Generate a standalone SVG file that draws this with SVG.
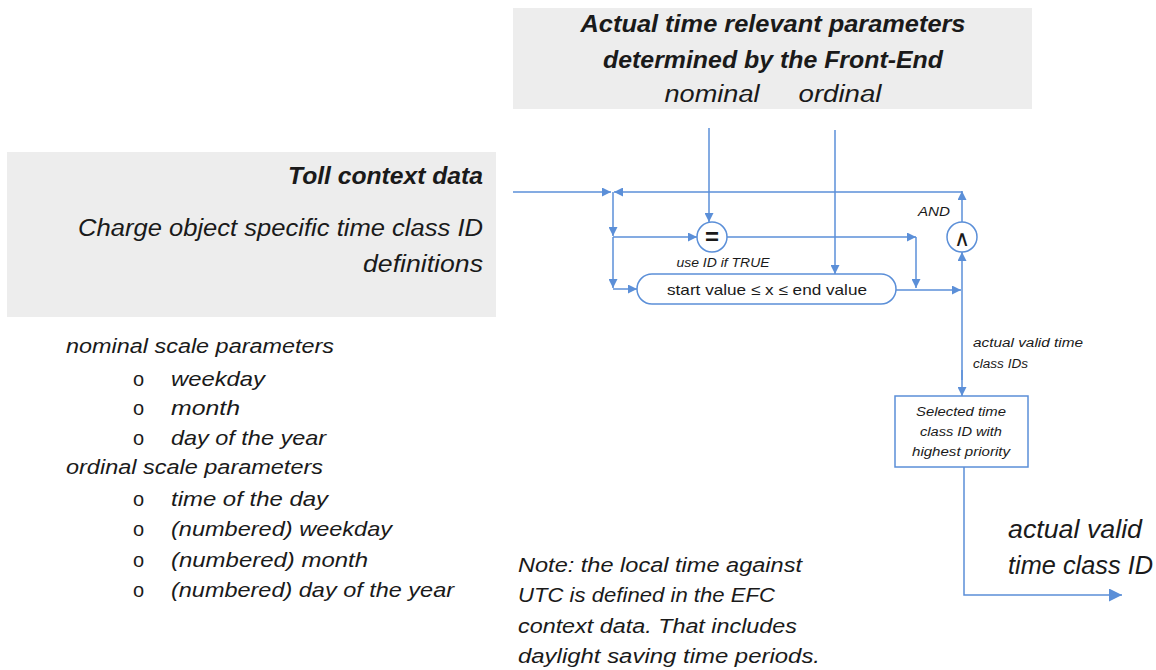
<svg xmlns="http://www.w3.org/2000/svg" width="1156" height="670" viewBox="0 0 1156 670">
<style>
.ln{fill:none;stroke:#5b8fd8;stroke-width:1.5}
.t{font-family:"Liberation Sans",Arial,sans-serif;fill:#1a1a1a;font-style:italic}
.b{font-weight:bold}
.sm{font-size:12px}
</style>
<defs>
<marker id="ah" viewBox="0 0 10 10" refX="10" refY="5" markerWidth="9" markerHeight="9" markerUnits="userSpaceOnUse" orient="auto">
<path d="M0,0 L10,5 L0,10 z" fill="#5b8fd8"/>
</marker>
<marker id="ahl" viewBox="0 0 10 10" refX="10" refY="5" markerWidth="13" markerHeight="13" markerUnits="userSpaceOnUse" orient="auto">
<path d="M0,0 L10,5 L0,10 z" fill="#5b8fd8"/>
</marker>
</defs>
<rect width="1156" height="670" fill="#ffffff"/>

<g id="frontend">
<rect x="513" y="8" width="519" height="101" fill="#ededed"/>
<text class="t b" x="773" y="32" font-size="23" text-anchor="middle" textLength="385" lengthAdjust="spacingAndGlyphs">Actual time relevant parameters</text>
<text class="t b" x="773" y="68" font-size="23" text-anchor="middle" textLength="340" lengthAdjust="spacingAndGlyphs">determined  by the Front-End</text>
<text class="t" x="712" y="102" font-size="23" text-anchor="middle" textLength="95" lengthAdjust="spacingAndGlyphs">nominal</text>
<text class="t" x="840" y="102" font-size="23" text-anchor="middle" textLength="83" lengthAdjust="spacingAndGlyphs">ordinal</text>
</g>

<g id="toll">
<rect x="7" y="152" width="489" height="165" fill="#ededed"/>
<text class="t b" x="483" y="184" font-size="23" text-anchor="end" textLength="195" lengthAdjust="spacingAndGlyphs">Toll context data</text>
<text class="t" x="483" y="236" font-size="23" text-anchor="end" textLength="405" lengthAdjust="spacingAndGlyphs">Charge object specific time class ID</text>
<text class="t" x="483" y="272" font-size="23" text-anchor="end" textLength="120" lengthAdjust="spacingAndGlyphs">definitions</text>
</g>

<g id="lists">
<text class="t" x="66" y="353" font-size="20" textLength="268" lengthAdjust="spacingAndGlyphs">nominal scale parameters</text>
<text class="t" x="66" y="474" font-size="20" textLength="257" lengthAdjust="spacingAndGlyphs">ordinal scale parameters</text>
<g font-family="Liberation Sans,Arial,sans-serif" font-size="20" fill="#1a1a1a">
<text x="133" y="386">o</text>
<text x="133" y="415">o</text>
<text x="133" y="445">o</text>
<text x="133" y="506">o</text>
<text x="133" y="536">o</text>
<text x="133" y="567">o</text>
<text x="133" y="597">o</text>
</g>
<text class="t" x="171" y="386" font-size="21" textLength="94" lengthAdjust="spacingAndGlyphs">weekday</text>
<text class="t" x="171" y="415" font-size="21" textLength="69" lengthAdjust="spacingAndGlyphs">month</text>
<text class="t" x="171" y="445" font-size="21" textLength="155" lengthAdjust="spacingAndGlyphs">day of the year</text>
<text class="t" x="171" y="506" font-size="21" textLength="157" lengthAdjust="spacingAndGlyphs">time of the day</text>
<text class="t" x="171" y="536" font-size="21" textLength="221" lengthAdjust="spacingAndGlyphs">(numbered) weekday</text>
<text class="t" x="171" y="567" font-size="21" textLength="197" lengthAdjust="spacingAndGlyphs">(numbered) month</text>
<text class="t" x="171" y="597" font-size="21" textLength="283" lengthAdjust="spacingAndGlyphs">(numbered) day of the year</text>
</g>

<g id="note">
<text class="t" x="518" y="572" font-size="20" textLength="284" lengthAdjust="spacingAndGlyphs">Note: the local time against</text>
<text class="t" x="518" y="602" font-size="20" textLength="257" lengthAdjust="spacingAndGlyphs">UTC is defined in the EFC</text>
<text class="t" x="518" y="633" font-size="20" textLength="279" lengthAdjust="spacingAndGlyphs">context data. That includes</text>
<text class="t" x="518" y="663" font-size="20" textLength="302" lengthAdjust="spacingAndGlyphs">daylight saving time periods.</text>
</g>

<g id="equal">
<circle cx="712" cy="237" r="15" fill="#ffffff" stroke="#5b8fd8" stroke-width="1.5"/>
<text x="712" y="245" font-family="Liberation Sans,Arial,sans-serif" font-weight="bold" font-size="24" text-anchor="middle" fill="#1a1a1a">=</text>
<text class="t sm" x="723" y="267" text-anchor="middle" textLength="93" lengthAdjust="spacingAndGlyphs">use ID if TRUE</text>
</g>

<g id="range">
<rect x="637" y="274" width="259" height="30" rx="15" ry="15" fill="#ffffff" stroke="#5b8fd8" stroke-width="1.5"/>
<text x="767" y="295" font-family="Liberation Sans,Arial,sans-serif" font-size="15" text-anchor="middle" fill="#1a1a1a" textLength="200" lengthAdjust="spacingAndGlyphs">start value ≤ x ≤ end value</text>
</g>

<g id="and">
<circle cx="962" cy="237" r="15" fill="#ffffff" stroke="#5b8fd8" stroke-width="1.5"/>
<text x="962" y="246" font-family="DejaVu Sans,sans-serif" font-size="22" text-anchor="middle" fill="#1a1a1a">∧</text>
<text class="t sm" x="934" y="216" text-anchor="middle" textLength="32" lengthAdjust="spacingAndGlyphs">AND</text>
</g>

<g id="select">
<rect x="895" y="396" width="133" height="71" fill="#ffffff" stroke="#5b8fd8" stroke-width="1.5"/>
<text class="t sm" x="961" y="416" text-anchor="middle" textLength="90" lengthAdjust="spacingAndGlyphs">Selected time</text>
<text class="t sm" x="961" y="436" text-anchor="middle" textLength="82" lengthAdjust="spacingAndGlyphs">class ID with</text>
<text class="t sm" x="961" y="456" text-anchor="middle" textLength="98" lengthAdjust="spacingAndGlyphs">highest priority</text>
</g>

<g id="labels">
<text class="t sm" x="973" y="347" textLength="110" lengthAdjust="spacingAndGlyphs">actual valid time</text>
<text class="t sm" x="973" y="368" textLength="55" lengthAdjust="spacingAndGlyphs">class IDs</text>
<text class="t" x="1008" y="538" font-size="25" textLength="134" lengthAdjust="spacingAndGlyphs">actual valid</text>
<text class="t" x="1008" y="574" font-size="25" textLength="145" lengthAdjust="spacingAndGlyphs">time class ID</text>
</g>

<g id="connectors">
<path class="ln" d="M513,192 H611" marker-end="url(#ah)"/>
<path class="ln" d="M962,192 H614" marker-end="url(#ah)"/>
<path class="ln" d="M962,222 V191" marker-end="url(#ah)"/>
<path class="ln" d="M613,192 V236" marker-end="url(#ah)"/>
<path class="ln" d="M613,237 H697" marker-end="url(#ah)"/>
<path class="ln" d="M613,237 V288" marker-end="url(#ah)"/>
<path class="ln" d="M613,289 H637" marker-end="url(#ah)"/>
<path class="ln" d="M709,128 V222" marker-end="url(#ah)"/>
<path class="ln" d="M835,130 V274" marker-end="url(#ah)"/>
<path class="ln" d="M727,237 H916" marker-end="url(#ah)"/>
<path class="ln" d="M916,237 V288" marker-end="url(#ah)"/>
<path class="ln" d="M896,290 H961" marker-end="url(#ah)"/>
<path class="ln" d="M962,380 V252" marker-end="url(#ah)"/>
<path class="ln" d="M962,370 V396" marker-end="url(#ah)"/>
<path class="ln" d="M964,467 V595 H1122" marker-end="url(#ahl)"/>
</g>
</svg>
